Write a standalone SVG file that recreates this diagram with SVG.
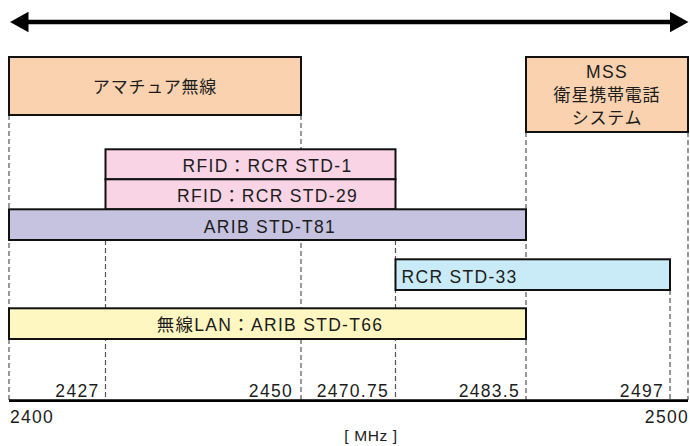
<svg xmlns="http://www.w3.org/2000/svg" width="690" height="446" viewBox="0 0 690 446">
  <defs>
    <style>
      .band { stroke: #111; stroke-width: 2; }
      .amateur { fill: #FAD2AF; }
      .rfid { fill: #F8D4E5; }
      .t81 { fill: #C6C3E0; }
      .std33 { fill: #C9EAF7; }
      .lan { fill: #FFF7C2; }
      .lbl { font-family: "Liberation Sans", "Noto Sans CJK JP", sans-serif; font-size: 17.5px; letter-spacing: 1.3px; fill: #1c1c1c; }
      .jp { font-size: 17px; letter-spacing: 0.8px; }
      .mid { text-anchor: middle; }
      .end { text-anchor: end; }
      .guide { stroke: #555; stroke-width: 1.2; stroke-dasharray: 5 3; fill: none; }
    </style>
  </defs>

  <!-- frequency guides and axis -->
  <g id="connectors">
    <line class="guide" x1="9" y1="115" x2="9" y2="400"/>
    <line class="guide" x1="105.5" y1="240" x2="105.5" y2="400"/>
    <line class="guide" x1="301" y1="115" x2="301" y2="400"/>
    <line class="guide" x1="395.5" y1="240" x2="395.5" y2="400"/>
    <line class="guide" x1="526" y1="132" x2="526" y2="400"/>
    <line class="guide" x1="670" y1="290" x2="670" y2="400"/>
    <line class="guide" x1="688" y1="132" x2="688" y2="400"/>

    <!-- double-headed range arrow -->
    <line x1="26" y1="22" x2="672" y2="22" stroke="#000" stroke-width="4.5"/>
    <polygon points="10,22 28.5,11.7 28.5,32.3" fill="#000"/>
    <polygon points="688.5,22 670,11.7 670,32.3" fill="#000"/>

    <!-- frequency axis -->
    <line x1="9" y1="400.7" x2="688" y2="400.7" stroke="#000" stroke-width="2.8"/>
  </g>

  <g id="amateur">
    <rect class="band amateur" x="9" y="57" width="292" height="58"/>
    <text class="lbl jp mid" x="155" y="93">アマチュア無線</text>
  </g>

  <g id="mss">
    <rect class="band amateur" x="526" y="57" width="162" height="75"/>
    <text class="lbl mid" x="607" y="78">MSS</text>
    <text class="lbl jp mid" x="607" y="101">衛星携帯電話</text>
    <text class="lbl jp mid" x="607" y="124">システム</text>
  </g>

  <g id="rfid-std1">
    <rect class="band rfid" x="105.5" y="149.3" width="290" height="30"/>
    <text class="lbl mid" x="267.5" y="171.5">RFID：RCR STD-1</text>
  </g>

  <g id="rfid-std29">
    <rect class="band rfid" x="105.5" y="179.3" width="290" height="30"/>
    <text class="lbl mid" x="267.5" y="201.5">RFID：RCR STD-29</text>
  </g>

  <g id="arib-t81">
    <rect class="band t81" x="9" y="209.3" width="517" height="30.7"/>
    <text class="lbl mid" x="270" y="233.3">ARIB STD-T81</text>
  </g>

  <g id="rcr-std33">
    <rect class="band std33" x="395.5" y="259.3" width="274.5" height="30.7"/>
    <text class="lbl" x="401.5" y="283.3">RCR STD-33</text>
  </g>

  <g id="wlan-t66">
    <rect class="band lan" x="9" y="308.3" width="517" height="30.7"/>
    <text class="lbl mid" x="270" y="331.3">無線LAN：ARIB STD-T66</text>
  </g>

  <g id="axis-labels">
    <text class="lbl end" x="99.5" y="396.5">2427</text>
    <text class="lbl end" x="293" y="396.5">2450</text>
    <text class="lbl end" x="389" y="396.5">2470.75</text>
    <text class="lbl end" x="520" y="396.5">2483.5</text>
    <text class="lbl end" x="664" y="396.5">2497</text>
    <text class="lbl" x="10" y="423.3">2400</text>
    <text class="lbl end" x="689" y="423.3">2500</text>
    <text class="lbl mid" x="371" y="441" style="font-size:15.5px;letter-spacing:0.6px">[ MHz ]</text>
  </g>
</svg>
